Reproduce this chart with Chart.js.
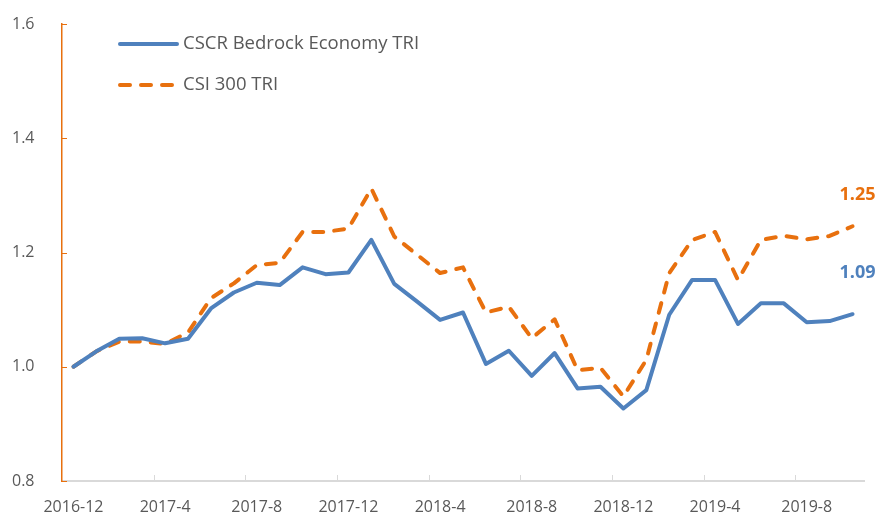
<!DOCTYPE html>
<html>
<head>
<meta charset="utf-8">
<script src="https://cdn.jsdelivr.net/npm/chart.js@4.4.1/dist/chart.umd.min.js"></script>
<style>
  html, body { margin: 0; padding: 0; background: #fff; }
  #wrap { width: 878px; height: 513px; }
</style>
</head>
<body>
<div id="wrap"><canvas id="indexChart" width="878" height="513"></canvas></div>
<script>
const months = [
  '2016-12',
  '2017-1', '2017-2', '2017-3', '2017-4', '2017-5', '2017-6', '2017-7', '2017-8', '2017-9', '2017-10', '2017-11', '2017-12',
  '2018-1', '2018-2', '2018-3', '2018-4', '2018-5', '2018-6', '2018-7', '2018-8', '2018-9', '2018-10', '2018-11', '2018-12',
  '2019-1', '2019-2', '2019-3', '2019-4', '2019-5', '2019-6', '2019-7', '2019-8', '2019-9', '2019-10'
];
const bedrockTri = [
  1.000, 1.027, 1.049, 1.050, 1.041, 1.049, 1.102, 1.130, 1.147, 1.143, 1.174, 1.162,
  1.165, 1.222, 1.145, 1.114, 1.082, 1.095, 1.005, 1.028, 0.984, 1.024, 0.962, 0.965,
  0.927, 0.959, 1.091, 1.152, 1.152, 1.075, 1.111, 1.111, 1.078, 1.080, 1.092
];
const csi300Tri = [
  1.000, 1.027, 1.044, 1.044, 1.040, 1.060, 1.120, 1.146, 1.178, 1.182, 1.236, 1.236,
  1.242, 1.312, 1.228, 1.196, 1.164, 1.174, 1.095, 1.105, 1.050, 1.083, 0.994, 0.998,
  0.948, 1.012, 1.164, 1.222, 1.236, 1.152, 1.222, 1.229, 1.223, 1.229, 1.246
];
const yTicks = [0.8, 1.0, 1.2, 1.4, 1.6];

const BLUE = '#4F81BD';
const ORANGE = '#E8700E';
const GREY_TEXT = '#595959';
const AXIS_GREY = '#D9D9D9';
const FONT = '"Open Sans", "Noto Sans", sans-serif';

// small tick marks pointing into the plot, like the original
const axisMarks = {
  id: 'axisMarks',
  beforeDatasetsDraw(chart) {
    const { ctx, chartArea, scales: { x, y } } = chart;
    const step = (x.right - x.left) / months.length;
    ctx.save();
    ctx.lineWidth = 1;
    ctx.strokeStyle = AXIS_GREY;
    ctx.beginPath();
    for (let i = 4; i < months.length; i += 4) {
      const px = Math.round(x.left + i * step) + 0.5;
      ctx.moveTo(px, chartArea.bottom);
      ctx.lineTo(px, chartArea.bottom - 6);
    }
    ctx.stroke();
    ctx.strokeStyle = ORANGE;
    ctx.beginPath();
    yTicks.forEach(v => {
      const py = Math.round(y.getPixelForValue(v)) + 0.5;
      ctx.moveTo(chartArea.left, py);
      ctx.lineTo(chartArea.left + 5, py);
    });
    ctx.stroke();
    ctx.restore();
  }
};

const insideLegend = {
  id: 'insideLegend',
  afterDraw(chart) {
    const { ctx, chartArea } = chart;
    ctx.save();
    ctx.font = `18.5px ${FONT}`;
    ctx.textBaseline = 'middle';
    chart.data.datasets.forEach((ds, i) => {
      const yy = 44 + i * 41;
      const x0 = chartArea.left + 58;
      ctx.strokeStyle = ds.borderColor;
      ctx.lineWidth = ds.borderWidth;
      ctx.lineCap = 'round';
      ctx.setLineDash(ds.borderDash || []);
      ctx.beginPath();
      ctx.moveTo(x0, yy);
      ctx.lineTo(x0 + 57, yy);
      ctx.stroke();
      ctx.setLineDash([]);
      ctx.fillStyle = GREY_TEXT;
      ctx.fillText(ds.label, x0 + 63, yy);
    });
    ctx.restore();
  }
};

const endLabels = {
  id: 'endLabels',
  afterDatasetsDraw(chart) {
    const { ctx } = chart;
    const lift = [41, 31];
    ctx.save();
    ctx.font = `bold 18px ${FONT}`;
    ctx.textAlign = 'center';
    ctx.textBaseline = 'middle';
    chart.data.datasets.forEach((ds, i) => {
      const meta = chart.getDatasetMeta(i);
      const last = meta.data[meta.data.length - 1];
      ctx.fillStyle = ds.borderColor;
      ctx.fillText(ds.data[ds.data.length - 1].toFixed(2), last.x + 5, last.y - lift[i]);
    });
    ctx.restore();
  }
};

new Chart(document.getElementById('indexChart'), {
  type: 'line',
  data: {
    labels: months,
    datasets: [
      {
        label: 'CSCR Bedrock Economy TRI',
        data: bedrockTri,
        borderColor: BLUE,
        backgroundColor: BLUE,
        borderWidth: 4,
        borderJoinStyle: 'round',
        borderCapStyle: 'round',
        pointRadius: 0,
        tension: 0
      },
      {
        label: 'CSI 300 TRI',
        data: csi300Tri,
        borderColor: ORANGE,
        backgroundColor: ORANGE,
        borderWidth: 4,
        borderDash: [10, 11],
        borderJoinStyle: 'round',
        borderCapStyle: 'round',
        pointRadius: 0,
        tension: 0
      }
    ]
  },
  options: {
    responsive: false,
    animation: false,
    devicePixelRatio: 1,
    layout: { padding: { top: 24, right: 14, bottom: 0, left: 12 } },
    plugins: {
      legend: { display: false },
      tooltip: { enabled: false }
    },
    scales: {
      x: {
        offset: true,
        grid: { display: true, offset: true, drawOnChartArea: false, drawTicks: false },
        border: { color: AXIS_GREY, width: 2 },
        afterFit(scale) { scale.height = 32; },
        ticks: {
          autoSkip: false,
          maxRotation: 0,
          padding: 17,
          color: GREY_TEXT,
          font: { family: FONT, size: 16 },
          callback(value, index) {
            return index % 4 === 0 ? months[index] : '';
          }
        }
      },
      y: {
        min: 0.8,
        max: 1.6,
        grid: { drawOnChartArea: false, drawTicks: false },
        border: { color: ORANGE, width: 1.5 },
        afterFit(scale) { scale.width = 50; },
        ticks: {
          stepSize: 0.2,
          padding: 0,
          crossAlign: 'far',
          color: GREY_TEXT,
          font: { family: FONT, size: 16 },
          callback(value) { return value.toFixed(1); }
        }
      }
    }
  },
  plugins: [axisMarks, insideLegend, endLabels]
});
</script>
</body>
</html>
